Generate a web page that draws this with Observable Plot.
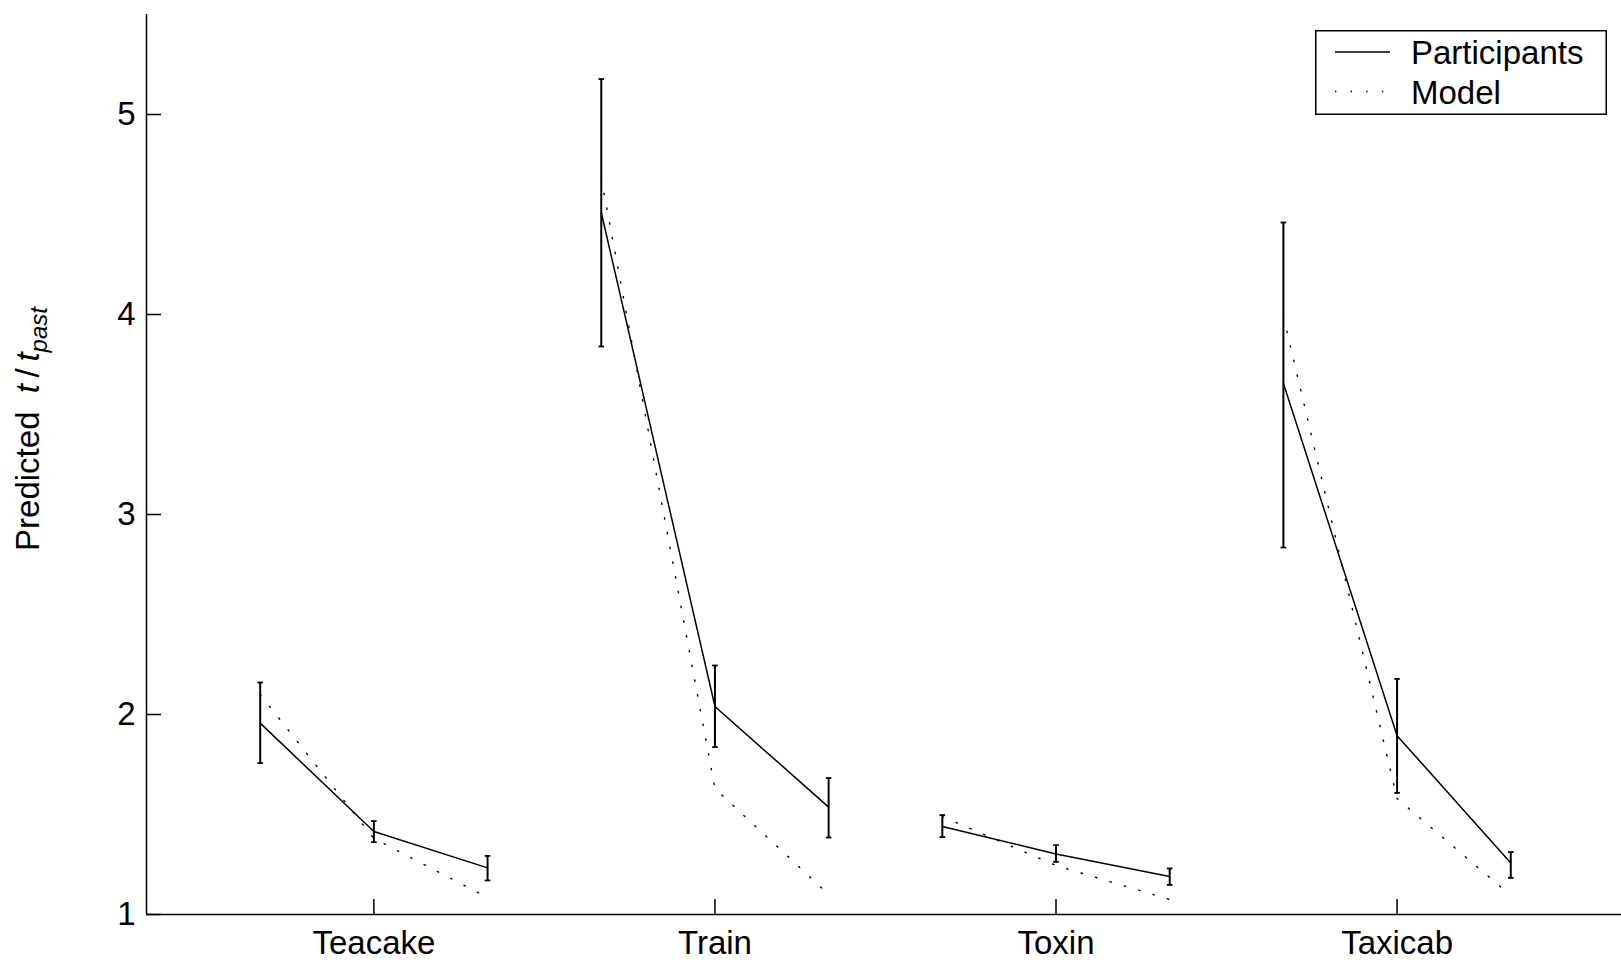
<!DOCTYPE html>
<html>
<head>
<meta charset="utf-8">
<script src="https://cdn.jsdelivr.net/npm/d3@7"></script>
<script src="https://cdn.jsdelivr.net/npm/@observablehq/plot@0.6"></script>
<style>
  body { margin: 0; background: #fff; }
  #wrap { position: relative; width: 1621px; height: 965px; font-family: "Liberation Sans", Arial, sans-serif; color: #000; }
  #ylabel { position: absolute; left: 31px; top: 429px; transform: translate(-50%, -50%) rotate(-90deg); white-space: nowrap; font-size: 33px; line-height: 1; }
  #ylabel sub { font-size: 24px; font-style: italic; vertical-align: -0.3em; }
  #legend { position: absolute; left: 1315px; top: 30px; }
</style>
</head>
<body>
<div id="wrap">
  <div id="ylabel">Predicted&nbsp;&nbsp;<i>t</i>&thinsp;/&thinsp;<i>t</i><sub>past</sub></div>
</div>
<script>
// ---- data ----
const categories = ["Teacake", "Train", "Toxin", "Taxicab"];
const conditionOffsets = [-1/3, 0, 1/3];           // three conditions per category
const participantsMean = [
  [1.957, 1.415, 1.233],
  [4.51, 2.04, 1.537],
  [1.44, 1.303, 1.19],
  [3.656, 1.894, 1.258]
];
const participantsLow = [
  [1.757, 1.362, 1.17],
  [3.84, 1.837, 1.385],
  [1.387, 1.263, 1.148],
  [2.835, 1.608, 1.183]
];
const participantsHigh = [
  [2.16, 1.467, 1.293],
  [5.177, 2.245, 1.682],
  [1.497, 1.347, 1.23],
  [4.46, 2.178, 1.312]
];
const modelValues = [
  [2.10, 1.38, 1.085],
  [4.68, 1.63, 1.10],
  [1.49, 1.245, 1.075],
  [3.99, 1.58, 1.095]
];
const yTicks = [1, 2, 3, 4, 5];
const xTicks = [1, 2, 3, 4];
const seriesNames = ["Participants", "Model"];

// ---- table built from the arrays ----
const rows = [];
categories.forEach((cat, i) => {
  conditionOffsets.forEach((off, j) => {
    rows.push({
      cat,
      x: i + 1 + off,
      mean: participantsMean[i][j],
      lo: participantsLow[i][j],
      hi: participantsHigh[i][j],
      model: modelValues[i][j]
    });
  });
});

const cap = { draw(context) { context.moveTo(-2.8, 0); context.lineTo(2.8, 0); } };

const chart = Plot.plot({
  width: 1621,
  height: 965,
  marginLeft: 146,
  marginRight: 0,
  marginTop: 14,
  marginBottom: 51,
  style: { fontSize: "33px", fontFamily: "'Liberation Sans', Arial, sans-serif", color: "black", background: "white" },
  x: { domain: [1/3, 4.658] },
  y: { domain: [1, 5.5] },
  marks: [
    Plot.ruleX([1/3], { stroke: "black", strokeWidth: 1.5 }),
    Plot.ruleY([1], { stroke: "black", strokeWidth: 1.5 }),
    Plot.axisY({ ticks: yTicks, tickFormat: d3.format("d"), tickSize: -15, tickPadding: 26, label: null, strokeWidth: 1.5, fontSize: 33 }),
    Plot.axisX({ ticks: xTicks, tickFormat: (d) => categories[d - 1], tickSize: -15, tickPadding: 31, label: null, strokeWidth: 1.5, fontSize: 33 }),
    Plot.line(rows, { x: "x", y: "model", z: "cat", stroke: "black", strokeWidth: 1.4, strokeDasharray: "1.4,13.6" }),
    Plot.line(rows, { x: "x", y: "mean", z: "cat", stroke: "black", strokeWidth: 1.5 }),
    Plot.ruleX(rows, { x: "x", y1: "lo", y2: "hi", stroke: "black", strokeWidth: 2 }),
    Plot.dot(rows, { x: "x", y: "lo", symbol: cap, r: 3, stroke: "black", strokeWidth: 1.8 }),
    Plot.dot(rows, { x: "x", y: "hi", symbol: cap, r: 3, stroke: "black", strokeWidth: 1.8 })
  ]
});
chart.style.position = "absolute";
chart.style.left = "0px";
chart.style.top = "0px";
const wrap = document.getElementById("wrap");
wrap.insertBefore(chart, wrap.firstChild);

// ---- legend ----
const ns = "http://www.w3.org/2000/svg";
const leg = document.createElementNS(ns, "svg");
leg.setAttribute("id", "legend");
leg.setAttribute("width", 292);
leg.setAttribute("height", 85);
const rect = document.createElementNS(ns, "rect");
rect.setAttribute("x", 0.75); rect.setAttribute("y", 0.75);
rect.setAttribute("width", 290.5); rect.setAttribute("height", 83.5);
rect.setAttribute("fill", "white"); rect.setAttribute("stroke", "black"); rect.setAttribute("stroke-width", 1.5);
leg.appendChild(rect);
const styles = [{ dash: null }, { dash: "1.4,14.2" }];
seriesNames.forEach((name, k) => {
  const cy = 22 + k * 39.5;
  const ln = document.createElementNS(ns, "line");
  ln.setAttribute("x1", 20); ln.setAttribute("x2", 75);
  ln.setAttribute("y1", cy); ln.setAttribute("y2", cy);
  ln.setAttribute("stroke", "black"); ln.setAttribute("stroke-width", 1.4);
  if (styles[k].dash) ln.setAttribute("stroke-dasharray", styles[k].dash);
  leg.appendChild(ln);
  const tx = document.createElementNS(ns, "text");
  tx.setAttribute("x", 96); tx.setAttribute("y", cy + 12);
  tx.setAttribute("font-size", 33);
  tx.setAttribute("font-family", "'Liberation Sans', Arial, sans-serif");
  tx.textContent = name;
  leg.appendChild(tx);
});
wrap.appendChild(leg);
</script>
</body>
</html>
